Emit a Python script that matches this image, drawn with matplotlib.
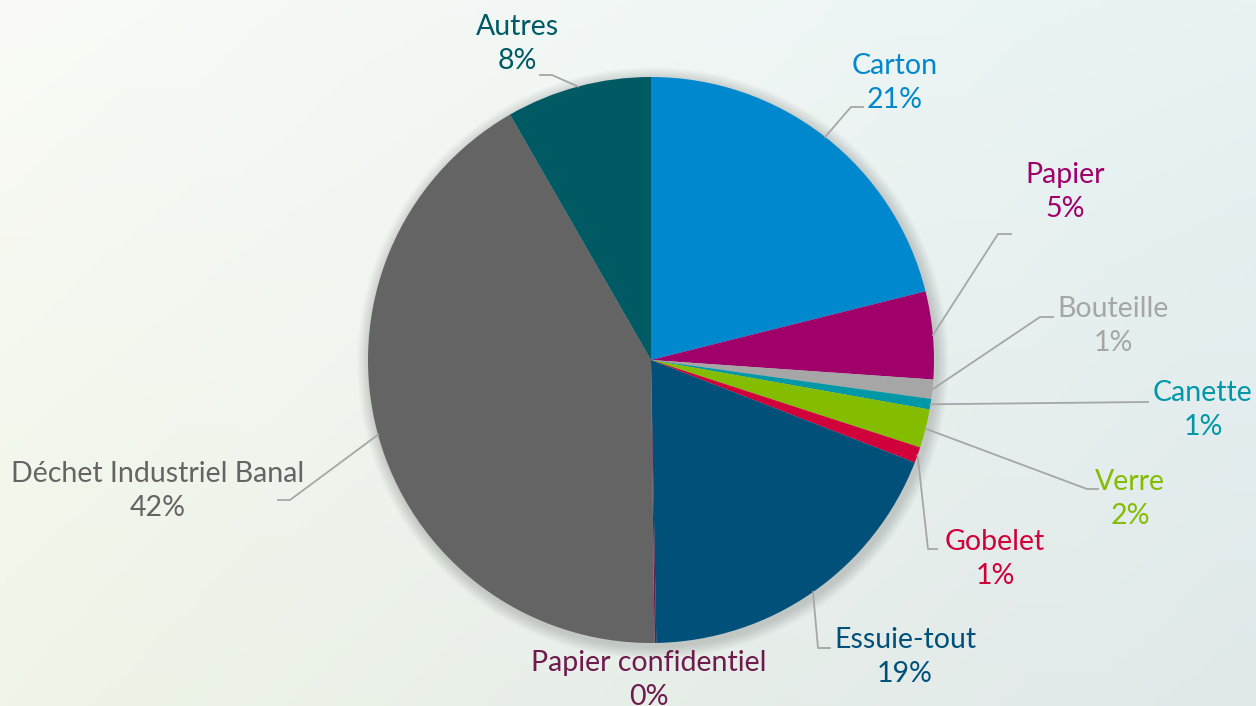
import numpy as np
import matplotlib.pyplot as plt
from matplotlib.colors import to_rgb
from matplotlib.patches import Circle

# Waste breakdown (percent of total)
categories = ["Carton", "Papier", "Bouteille", "Canette", "Verre", "Gobelet",
              "Essuie-tout", "Papier confidentiel", "Déchet Industriel Banal", "Autres"]
shares = [21.1, 5.0, 1.1, 0.6, 2.2, 0.9, 18.8, 0.1, 41.9, 8.3]
colors = ["#0088ce", "#a0006a", "#a6a6a6", "#0097a7", "#84bd00", "#d0003a",
          "#00507a", "#6d1a4c", "#646464", "#005a64"]
label_colors = ["#0088ce", "#a0006a", "#a6a6a6", "#0097a7", "#84bd00", "#d0003a",
                "#00507a", "#6d1a4c", "#646464", "#005a64"]

# label centre and leader-line elbow (pixel coords, y down)
label_pos = [(895, 83), (1065, 192), (1113, 326), (1203, 410), (1130, 499),
             (995, 559), (905, 657), (649, 680), (158, 491), (517, 44)]
elbows = [[(851, 107), (863, 107)], [(998, 234), (1011, 234)],
          [(1040, 317), (1053, 317)], [(1148, 402)], [(1087, 489), (1098, 489)],
          [(928, 549), (937, 549)], [(818, 648), (830, 648)], None,
          [(290, 500), (278, 500)], [(552, 75), (540, 75)]]

W, H = 1256, 706
cx, cy, R = 651, 360, 283

plt.rcParams["font.family"] = ["Lato", "DejaVu Sans"]
fig = plt.figure(figsize=(W / 100, H / 100), dpi=100)
ax = fig.add_axes([0, 0, 1, 1])

# Soft background gradient
tl, bl = np.array(to_rgb("#fafbf6")), np.array(to_rgb("#eff5e7"))
tr, br = np.array(to_rgb("#e8f3f4")), np.array(to_rgb("#e0e8ea"))
u = np.linspace(0, 1, 200)[None, :, None]
v = np.linspace(0, 1, 120)[:, None, None]
grad = (1 - u) * ((1 - v) * tl + v * bl) + u * ((1 - v) * tr + v * br)
ax.imshow(grad, extent=(0, W, H, 0), aspect="auto", zorder=0)

# faint shadow under the pie
for i in range(8):
    ax.add_patch(Circle((cx + 2, cy + 3), R + 2 + i * 1.5, color="black",
                        alpha=0.018, lw=0, zorder=1))

wedges, _ = ax.pie(shares, colors=colors, startangle=-90, counterclock=True,
                   center=(cx, cy), radius=R, frame=True,
                   wedgeprops=dict(linewidth=0, zorder=2))
ax.set_xlim(0, W)
ax.set_ylim(H, 0)
ax.set_aspect("equal")
ax.axis("off")

for w, name, val, col, pos, elb in zip(wedges, categories, shares,
                                        label_colors, label_pos, elbows):
    mid = np.deg2rad((w.theta1 + w.theta2) / 2)
    if elb is not None:
        sx, sy = cx + R * np.cos(mid), cy + R * np.sin(mid)
        xs = [sx] + [p[0] for p in elb]
        ys = [sy] + [p[1] for p in elb]
        ax.plot(xs, ys, color="#a6a6a6", lw=1.3, zorder=3)
    ax.text(pos[0], pos[1], f"{name}\n{round(val)}%", color=col, fontsize=20.5,
            fontweight="normal", ha="center", va="center", linespacing=1.36,
            zorder=4)

fig.savefig("out.png", dpi=100)
